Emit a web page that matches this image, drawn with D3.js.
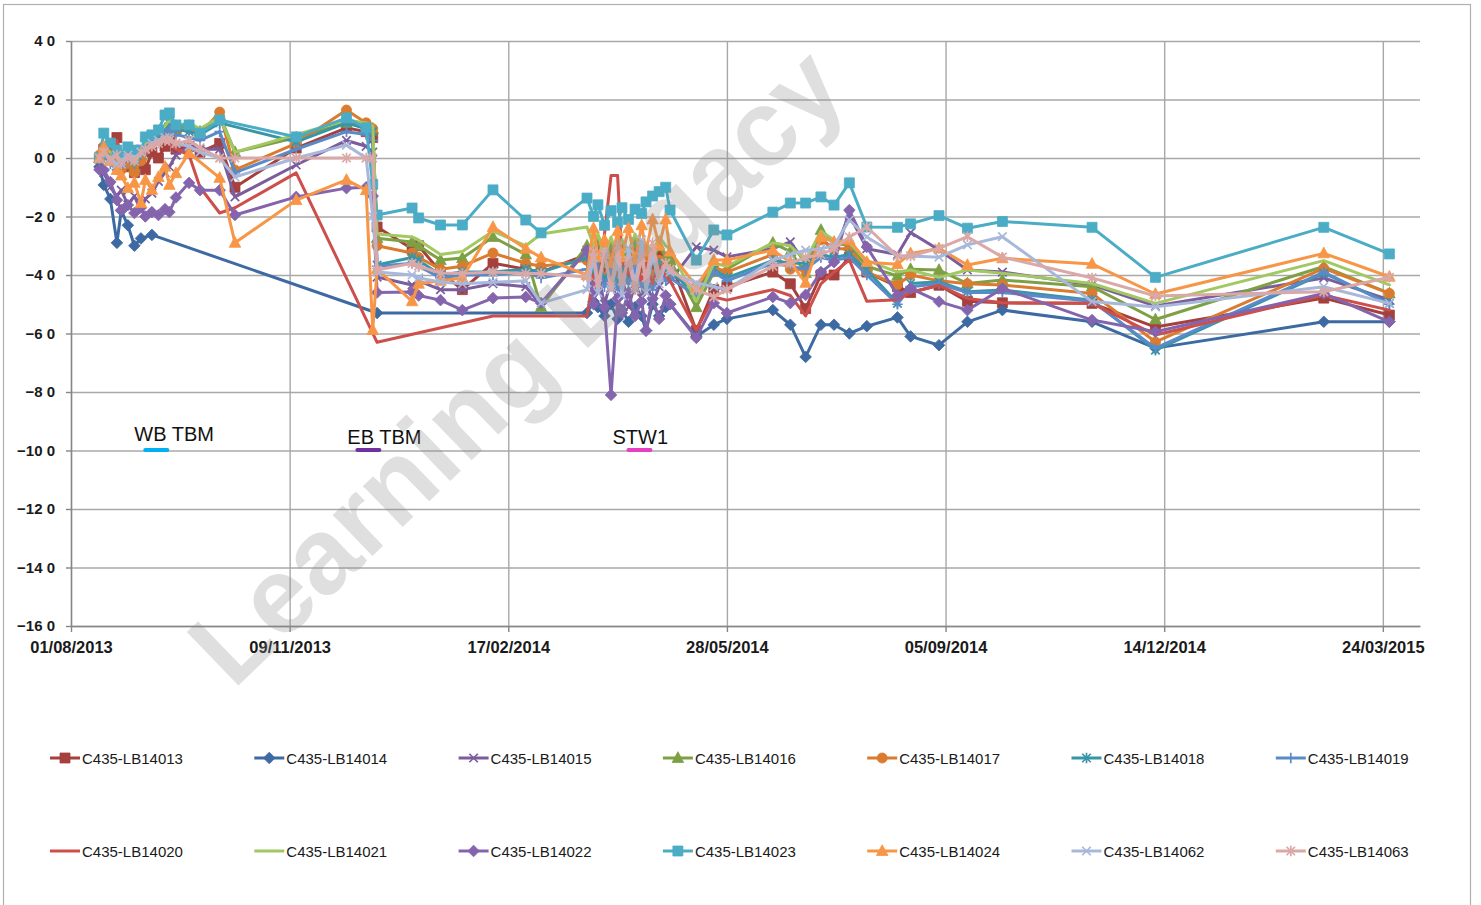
<!DOCTYPE html>
<html>
<head>
<meta charset="utf-8">
<script src="https://cdn.jsdelivr.net/npm/d3@7"></script>
<style>
  body { margin: 0; background: #fff; }
  svg { display: block; }
  text { font-family: "Liberation Sans", Arial, sans-serif; }
</style>
</head>
<body>
<svg id="chart" width="1481" height="905"></svg>
<script>
// survey dates (shared by all points)
const dates = [
  "2013-08-14","2013-08-16","2013-08-19","2013-08-22","2013-08-24","2013-08-27","2013-08-30","2013-09-02","2013-09-04",
  "2013-09-07","2013-09-10","2013-09-13","2013-09-15","2013-09-18","2013-09-24","2013-09-29","2013-10-08","2013-10-15",
  "2013-11-12","2013-12-05","2013-12-14","2013-12-17","2013-12-19",
  "2014-01-04","2014-01-07","2014-01-17","2014-01-27","2014-02-10","2014-02-25","2014-03-04",
  "2014-03-25","2014-03-28","2014-03-30","2014-04-02","2014-04-05","2014-04-08","2014-04-10","2014-04-13",
  "2014-04-16","2014-04-19","2014-04-21","2014-04-24","2014-04-27","2014-04-30","2014-05-02",
  "2014-05-14","2014-05-22","2014-05-28","2014-06-18","2014-06-26","2014-07-03","2014-07-10","2014-07-16","2014-07-23",
  "2014-07-31","2014-08-14","2014-08-20","2014-09-02","2014-09-15","2014-10-01","2014-11-11","2014-12-10","2015-02-25","2015-03-27"
];

const LB14013 = [
  0.0, 0.3, 0.2, 0.7, -0.2, -0.3, -0.5, -0.2, -0.4, 0.2, 0.0, 0.4, 0.6, 0.3, 0.4, 0.2, 0.5, -1.0,
  0.34, 1.03, 0.9, 0.7, -2.36,
  -3.1, -3.0, -3.9, -4.5, -3.6, -3.8, -3.9,
  -3.3, -3.6, -3.1, -3.8, -3.3, -3.9, -3.4, -3.7, -3.2, -3.9, -3.4, -3.8, -3.3, -3.6, -3.5,
  -5.9, -4.5, -4.4, -3.9, -4.3, -5.15, -4.0, -4.0, -3.4, -3.9, -4.4, -4.6, -4.35, -4.9, -4.95, -4.97, -5.78, -4.79, -5.37
];
const LB14014 = [
  -0.3, -0.92, -1.4, -2.9, -1.8, -2.3, -3.0, -2.75, null, -2.63, null, null, null, null, null, null, null, null,
  null, null, null, null, -5.3,
  null, null, null, null, null, null, null,
  -5.3, -4.9, -5.1, -5.4, -5.0, -5.5, -5.2, -5.6, -5.1, -5.4, -5.9, -5.0, -5.4, -5.1, -5.0,
  -6.1, -5.7, -5.5, -5.2, -5.7, -6.8, -5.7, -5.7, -6.0, -5.75, -5.45, -6.1, -6.4, -5.6, -5.2, -5.6, -6.5, -5.6, -5.6
];
const LB14015 = [
  -0.2, -0.5, -1.0, -1.3, -1.1, -1.6, -1.3, -1.8, -1.4, -1.2, -0.8, -0.5, -0.3, 0.1, 0.4, 0.3, 0.3, -1.33,
  -0.24, 0.6, 0.4, 0.2, -4.07,
  -4.34, -4.2, -4.5, -4.5, -4.3, -4.4, -5.03,
  -3.15, -4.8, -3.9, -5.0, -4.2, -4.9, -4.0, -5.1, -4.3, -4.8, -4.1, -5.0, -4.4, -3.9, -4.2,
  -3.04, -3.15, -3.38, -3.1, -2.87, -3.6, -2.7, -3.2, -1.95, -3.1, -3.3, -2.55, -3.14, -3.83, -3.9, -4.34, -5.06, -4.1, -4.85
];
const LB14016 = [
  0.0, 0.3, 0.1, -0.1, -0.2, 0.0, -0.3, 0.1, 0.4, 0.6, 0.8, 1.0, 1.2, 1.0, 1.1, 0.9, 1.47, 0.2,
  0.7, 1.2, 1.1, 1.0, -2.74,
  -2.87, -3.0, -3.49, -3.42, -2.7, -3.3, -5.1,
  -3.0, -3.4, -2.8, -3.6, -3.0, -3.7, -3.1, -3.5, -2.9, -3.6, -3.2, -3.5, -3.0, -3.4, -3.5,
  -5.1, -3.9, -3.8, -2.9, -3.2, -3.93, -2.46, -2.9, -3.0, -3.7, -4.03, -3.8, -3.83, -4.29, -4.17, -4.4, -5.52, -3.71, -4.63
];
const LB14017 = [
  0.1, 0.4, 0.0, -0.2, -0.4, -0.2, -0.5, -0.1, 0.3, 0.5, 0.7, 0.9, 1.1, 0.9, 1.0, 0.8, 1.57, -0.41,
  0.5, 1.64, 1.2, 1.0, -3.0,
  -3.25, -3.4, -3.8, -3.7, -3.25, -3.6, -3.7,
  -3.5, -3.9, -3.3, -4.1, -3.4, -4.2, -3.6, -4.0, -3.4, -4.1, -3.5, -4.0, -3.5, -3.8, -3.9,
  -4.45, -3.73, -3.9, -3.3, -3.8, -3.83, -2.8, -3.1, -3.1, -3.9, -4.34, -4.0, -4.2, -4.3, -4.34, -4.63, -6.29, -3.77, -4.63
];
const LB14018 = [
  0.0, 0.3, 0.0, -0.3, -0.2, 0.1, -0.1, 0.2, 0.5, 0.6, 0.8, 1.0, 1.2, 1.0, 0.9, 0.8, 1.2, null,
  0.55, 1.2, 1.0, 0.9, -3.66,
  -3.4, -3.5, -4.0, -3.9, -3.9, -3.8, -3.9,
  -3.4, -4.0, -3.5, -4.2, -3.6, -4.3, -3.7, -4.1, -3.5, -4.2, -3.8, -4.3, -3.6, -3.9, -3.9,
  -4.6, -3.8, -4.1, -3.5, -3.6, -3.6, -3.3, -3.4, -3.3, -3.83, -4.97, -4.29, -4.23, -4.57, -4.51, -4.86, -6.57, -3.94, -4.97
];
const LB14019 = [
  -0.1, 0.1, -0.2, -0.4, -0.3, 0.0, -0.2, 0.1, 0.3, 0.5, 0.6, 0.8, 1.0, 0.8, 0.7, 0.6, 0.9, -0.5,
  0.3, 0.9, 0.8, 0.6, -3.7,
  -3.6, -3.7, -4.1, -4.0, -4.0, -3.9, -4.1,
  -3.8, -4.2, -3.7, -4.4, -3.9, -4.5, -4.0, -4.3, -3.8, -4.4, -4.0, -4.5, -3.9, -4.2, -4.1,
  -4.7, -3.9, -4.2, -3.6, -3.7, -3.8, -3.4, -3.5, -3.4, -4.0, -5.0, -4.4, -4.3, -4.6, -4.6, -4.9, -6.5, -3.9, -5.0
];
const LB14020 = [
  0.0, 0.5, 0.2, 0.6, -0.1, 0.2, -0.2, 0.3, 0.1, 0.4, 0.6, 0.8, 0.5, 0.3, 0.1, -1.0, -1.88, -1.7,
  -0.51, null, null, null, -6.3,
  null, null, null, null, -5.4, null, null,
  -5.4, -4.0, -4.6, -2.6, -0.6, -0.6, -3.5, -4.0, -3.4, -4.2, -3.6, -4.3, -3.7, -4.0, -4.2,
  -5.88, -4.75, -4.86, -4.5, -4.7, -5.4, -4.3, -3.9, -3.49, -4.9, -4.85, -4.6, -4.35, -4.8, -4.95, -4.97, -6.05, -4.69, -5.2
];
const LB14021 = [
  0.0, 0.4, 0.2, 0.0, -0.1, 0.1, -0.2, 0.2, 0.5, 0.7, 0.9, 1.1, 1.3, 1.1, 1.2, 1.0, 1.4, 0.2,
  0.8, 1.3, 1.2, 1.1, -2.6,
  -2.7, -2.8, -3.3, -3.2, -2.5, -3.0, -2.6,
  -2.36, -3.0, -2.6, -3.3, -2.7, -3.4, -2.8, -3.2, -2.6, -3.3, -2.9, -3.2, -2.7, -3.0, -3.1,
  -4.9, -3.6, -3.7, -2.9, -3.0, -3.5, -2.5, -2.8, -2.9, -3.5, -3.9, -3.83, -4.08, -3.83, -3.94, -4.29, -4.97, -3.51, -4.34
];
const LB14022 = [
  -0.4, -0.41, -0.82, -1.44, -1.78, -1.61, -1.88, -1.7, -2.0, -1.85, -1.95, -1.75, -1.85, -1.35, -0.85, -1.1, -1.1, -1.95,
  -1.33, -1.03, -1.0, -1.3, -4.6,
  -4.58, -4.7, -4.86, -5.2, -4.79, -4.75, -4.96,
  -3.15, -5.0, -4.2, -5.1, -8.1, -4.8, -5.3, -4.6, -5.4, -4.9, -5.9, -4.8, -5.5, -4.7, -5.0,
  -6.15, -4.96, -5.3, -4.75, -4.96, -4.68, -3.9, -3.56, -1.78, -3.04, -4.69, -4.46, -4.91, -5.2, -4.46, -5.54, -5.94, -4.63, -5.6
];
const LB14023 = [
  0.0, 0.85, 0.51, 0.27, 0.1, 0.38, 0.27, 0.27, 0.72, 0.79, 0.96, 1.47, 1.54, 1.13, 1.13, 0.85, 1.3, null,
  0.72, 1.37, 1.03, -0.9, -1.95,
  -1.71, -2.05, -2.29, -2.29, -1.09, -2.12, -2.56,
  -1.37, -2.0, -1.6, -2.3, -1.8, -2.2, -1.7, -2.1, -1.75, -1.9, -1.5, -1.3, -1.15, -1.0, -1.78,
  -3.49, -2.46, -2.63, -1.85, -1.54, -1.54, -1.33, -1.61, -0.85, -2.36, -2.37, -2.25, -1.97, -2.4, -2.17, -2.37, -4.08, -2.37, -3.28
];
const LB14024 = [
  0.0, 0.38, -0.1, -0.41, -0.6, -1.03, -0.85, -1.54, -0.75, -1.09, -0.65, -0.3, -0.92, -0.52, 0.17, null, -0.68, -2.9,
  -1.44, -0.75, -1.1, -5.88, -3.8,
  -4.9, -4.3, -4.2, -4.1, -2.36, -3.1, -3.4,
  -4.0, -2.4, -3.4, -2.8, -3.6, -2.5, -3.4, -2.4, -3.5, -2.3, -3.2, -2.1, -3.0, -2.1, -3.2,
  -4.4, -3.49, -3.49, -3.15, -3.56, -4.27, -2.7, -2.87, -2.8, -3.56, -3.63, -3.26, -3.09, -3.66, -3.43, -3.62, -4.65, -3.26, -4.06
];
const LB14062 = [
  0.0, 0.2, 0.0, -0.2, -0.1, 0.1, 0.0, 0.2, 0.3, 0.5, 0.6, 0.7, 0.7, 0.5, 0.4, 0.2, 0.0, -0.65,
  0.0, 0.44, 0.0, -2.0, -3.9,
  -4.0, -4.1, -4.24, -4.3, -4.25, -4.2, -4.96,
  -4.5, -3.4, -4.6, -3.2, -4.5, -3.5, -4.7, -3.1, -4.4, -2.8, -4.6, -3.3, -4.3, -3.6, -3.9,
  -4.27, -4.4, -4.5, -3.49, -3.3, -3.15, -3.1, -3.0, -2.12, -2.7, -3.35, -3.35, -3.39, -2.97, -2.69, -4.91, -5.09, -4.4, -4.97
];
const LB14063 = [
  0.0, 0.2, -0.1, 0.1, -0.2, 0.0, -0.1, 0.2, 0.3, 0.4, 0.5, 0.6, 0.6, 0.5, 0.6, 0.35, 0.0, 0.0,
  0.0, 0.0, 0.0, 0.0, -3.83,
  -3.6, -3.7, -3.93, -3.95, -3.9, -3.95, -3.95,
  -4.07, -3.2, -4.3, -3.3, -4.4, -3.0, -4.2, -3.5, -4.5, -3.4, -4.1, -2.9, -4.0, -3.6, -3.8,
  -4.5, -4.75, -4.5, -3.7, -3.6, -3.4, -3.3, -3.1, -2.7, -2.36, -3.35, -3.35, -3.09, -2.69, -3.39, -4.1, -4.72, -4.57, -4.08
];

const seriesNames = ["C435-LB14013","C435-LB14014","C435-LB14015","C435-LB14016","C435-LB14017","C435-LB14018","C435-LB14019",
                     "C435-LB14020","C435-LB14021","C435-LB14022","C435-LB14023","C435-LB14024","C435-LB14062","C435-LB14063"];
const seriesValues = [LB14013, LB14014, LB14015, LB14016, LB14017, LB14018, LB14019,
                      LB14020, LB14021, LB14022, LB14023, LB14024, LB14062, LB14063];

const yTicks = d3.range(-16, 4.1, 2);

// annotations: label and the date its coloured dash sits on
const noteLabels = ["WB TBM", "EB TBM", "STW1"];
const noteDates = ["2013-09-09", "2013-12-15", "2014-04-18"];

// ---- styles ----
const noteColors = ["#00B0F0", "#7030A0", "#E83EC0"];
const noteShift = [-22, -21, -27];   // label start relative to its dash centre
const noteBase = [441, 444, 444];
const colors = ["#A5403D","#3D6AA2","#7B5C9D","#7EA044","#DA7B2F","#3795A8","#5B8AC8",
                "#CD4F4C","#A2C861","#8564AE","#4BACC6","#F79646","#A8B8DA","#DAA8A7"];
const markers = ["square","diamond","x","triangle","circle","star","plus",
                 null,null,"diamond","square","triangle","x","star"];

const symX = { draw(c, s) { const r = Math.sqrt(s) / 2; c.moveTo(-r, -r); c.lineTo(r, r); c.moveTo(r, -r); c.lineTo(-r, r); } };
const symPlus = { draw(c, s) { const r = Math.sqrt(s) / 2 + 1; c.moveTo(-r, 0); c.lineTo(r, 0); c.moveTo(0, -r); c.lineTo(0, r); } };
const symStar = { draw(c, s) { const r = Math.sqrt(s) / 2; c.moveTo(-r, -r); c.lineTo(r, r); c.moveTo(r, -r); c.lineTo(-r, r); c.moveTo(0, -r - 1); c.lineTo(0, r + 1); } };
const symDiamond = { draw(c, s) { const r = Math.sqrt(s) / 2 * 1.3; c.moveTo(0, -r); c.lineTo(r, 0); c.lineTo(0, r); c.lineTo(-r, 0); c.closePath(); } };
const symTri = { draw(c, s) { const r = Math.sqrt(s) / 2; c.moveTo(0, -r * 1.2); c.lineTo(r * 1.1, r * 0.85); c.lineTo(-r * 1.1, r * 0.85); c.closePath(); } };
const symSquare = { draw(c, s) { const r = Math.sqrt(s) / 2; c.rect(-r, -r, 2 * r, 2 * r); } };
const symCircle = { draw(c, s) { const r = Math.sqrt(s) / 2 + 0.3; c.moveTo(r, 0); c.arc(0, 0, r, 0, 2 * Math.PI); } };
const symTypes = { square: symSquare, diamond: symDiamond, triangle: symTri, circle: symCircle, x: symX, plus: symPlus, star: symStar };
const stroked = { x: true, plus: true, star: true };
const markSize = { square: 100, diamond: 80, triangle: 110, circle: 90, x: 72, plus: 72, star: 72 };

const svg = d3.select("#chart");
const plot = { left: 71, right: 1420, top: 41, bottom: 626 };
const parse = d3.timeParse("%Y-%m-%d");
const start = parse("2013-08-01");

const x = d3.scaleTime()
  .domain([start, d3.timeDay.offset(start, 617)])
  .range([plot.left, plot.right]);
const y = d3.scaleLinear().domain([-16, 4]).range([plot.bottom, plot.top]);

const xTicks = d3.range(0, 7).map(i => d3.timeDay.offset(start, i * 100));
const fmtY = d => d3.format(".1f")(d).replace(".", " ");

// frame
svg.append("rect").attr("x", 3.5).attr("y", 4.5).attr("width", 1467).attr("height", 920)
  .attr("fill", "#fff").attr("stroke", "#b0b0b0").attr("stroke-width", 1.2);

// gridlines
svg.append("g").attr("transform", `translate(${plot.left},0)`)
  .call(d3.axisLeft(y).tickValues(yTicks).tickSize(-(plot.right - plot.left)).tickFormat(""))
  .call(g => g.select(".domain").remove())
  .call(g => g.selectAll("line").attr("stroke", "#a8a8a8").attr("stroke-width", 1.4));
svg.append("g").attr("transform", `translate(0,${plot.bottom})`)
  .call(d3.axisBottom(x).tickValues(xTicks).tickSize(-(plot.bottom - plot.top)).tickFormat(""))
  .call(g => g.select(".domain").remove())
  .call(g => g.selectAll("line").attr("stroke", "#a8a8a8").attr("stroke-width", 1.4));

// axes
const yAxis = svg.append("g").attr("transform", `translate(${plot.left},0)`)
  .call(d3.axisLeft(y).tickValues(yTicks).tickSize(5).tickPadding(11).tickFormat(fmtY).tickSizeOuter(0));
const xAxis = svg.append("g").attr("transform", `translate(0,${plot.bottom})`)
  .call(d3.axisBottom(x).tickValues(xTicks).tickSize(6).tickPadding(9).tickFormat(d3.timeFormat("%d/%m/%Y")).tickSizeOuter(0));
[yAxis, xAxis].forEach(g => {
  g.select(".domain").attr("stroke", "#868686").attr("stroke-width", 1.4);
  g.selectAll(".tick line").attr("stroke", "#868686").attr("stroke-width", 1.4);
  g.selectAll("text").attr("fill", "#1a1a1a").attr("font-weight", "bold")
    .attr("font-family", "'Liberation Sans', Arial, sans-serif");
});
yAxis.selectAll("text").attr("font-size", 15);
xAxis.selectAll("text").attr("font-size", 16.5);

// series
const line = d3.line().x(d => x(d.date)).y(d => y(d.v));
const parsedDates = dates.map(parse);

seriesValues.forEach((vals, i) => {
  const pts = vals.map((v, j) => ({ date: parsedDates[j], v })).filter(d => d.v !== null);
  const g = svg.append("g").attr("class", "series");
  g.append("path").datum(pts).attr("d", line)
    .attr("fill", "none").attr("stroke", colors[i]).attr("stroke-width", 3)
    .attr("stroke-linejoin", "round").attr("stroke-linecap", "round");
  const m = markers[i];
  if (m) {
    const sym = d3.symbol(symTypes[m], markSize[m]);
    g.selectAll("path.mk").data(pts).join("path").attr("class", "mk")
      .attr("transform", d => `translate(${x(d.date)},${y(d.v)})`)
      .attr("d", sym)
      .attr("fill", stroked[m] ? "none" : colors[i])
      .attr("stroke", colors[i]).attr("stroke-width", stroked[m] ? 1.7 : 0.8);
  }
});

// annotations
noteLabels.forEach((label, i) => {
  const cx = x(parse(noteDates[i]));
  svg.append("text").attr("x", cx + noteShift[i]).attr("y", noteBase[i])
    .attr("font-size", 20).attr("fill", "#111").text(label);
  svg.append("line").attr("x1", cx - 11).attr("x2", cx + 11).attr("y1", 450).attr("y2", 450)
    .attr("stroke", noteColors[i]).attr("stroke-width", 4).attr("stroke-linecap", "round");
});

// legend
const legend = svg.append("g");
seriesNames.forEach((name, i) => {
  const col = i % 7, row = Math.floor(i / 7);
  const lx = 50 + col * 204.3, ly = row === 0 ? 758 : 851;
  const g = legend.append("g").attr("transform", `translate(${lx},${ly})`);
  g.append("line").attr("x1", 0).attr("x2", 30).attr("y1", 0).attr("y2", 0)
    .attr("stroke", colors[i]).attr("stroke-width", 3);
  const m = markers[i];
  if (m) {
    g.append("path").attr("transform", "translate(15,0)")
      .attr("d", d3.symbol(symTypes[m], markSize[m]))
      .attr("fill", stroked[m] ? "none" : colors[i])
      .attr("stroke", colors[i]).attr("stroke-width", stroked[m] ? 1.7 : 0.8);
  }
  g.append("text").attr("x", 32).attr("y", 5.5).attr("font-size", 15).attr("fill", "#1a1a1a").text(name);
});

// watermark
svg.append("text")
  .attr("transform", "translate(522,372) rotate(-44)")
  .attr("text-anchor", "middle").attr("dominant-baseline", "middle")
  .attr("font-size", 108).attr("font-weight", "bold").attr("fill", "#8c8c8c").attr("fill-opacity", 0.28)
  .text("Learning Legacy");
</script>
</body>
</html>
